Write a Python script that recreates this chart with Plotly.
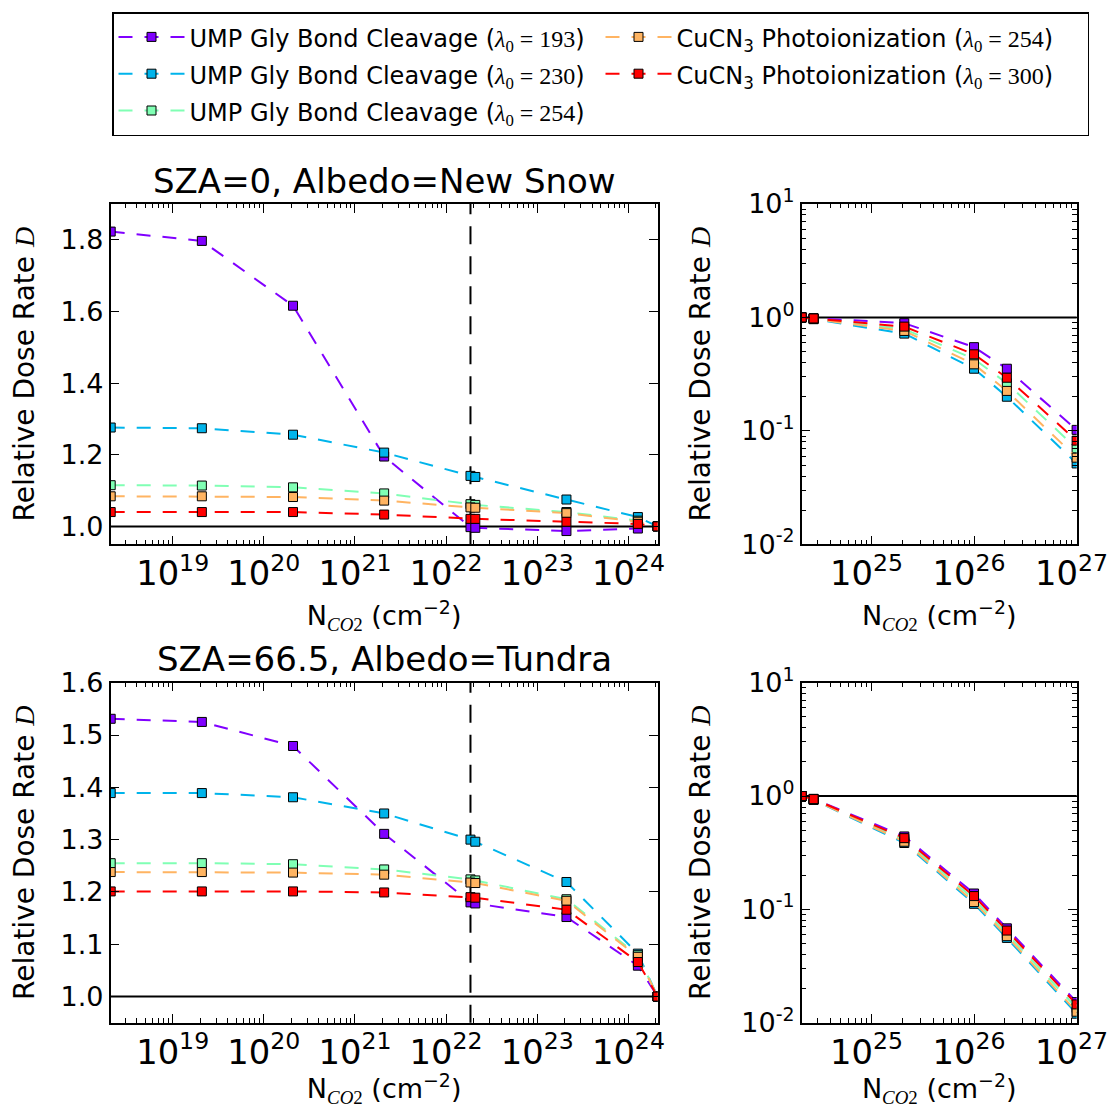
import math
import plotly.graph_objects as go

# ---------------- data ----------------
x_left = [2.09e18, 2.09e19, 2.09e20, 2.09e21, 1.85e22, 2.09e22, 2.09e23, 1.27e24, 2.09e24]
x_right = [2.09e24, 2.73e24, 2.09e25, 1.0e26, 2.09e26, 1.0e27]

# SZA=0, Albedo=New Snow (linear panel)
tl_ump193 = [1.823, 1.797, 1.616, 1.195, 0.998, 0.996, 0.987, 0.994, 1.0]
tl_ump230 = [1.276, 1.274, 1.256, 1.206, 1.141, 1.138, 1.075, 1.026, 1.0]
tl_ump254 = [1.115, 1.114, 1.109, 1.092, 1.062, 1.060, 1.040, 1.016, 1.0]
tl_cu254 = [1.084, 1.084, 1.082, 1.072, 1.053, 1.052, 1.037, 1.013, 1.0]
tl_cu300 = [1.040, 1.040, 1.040, 1.033, 1.021, 1.021, 1.013, 1.007, 1.0]

# SZA=0, Albedo=New Snow (log panel)
tr_ump193 = [1.0, 0.985, 0.89, 0.547, 0.353, 0.102]
tr_ump230 = [1.0, 0.965, 0.72, 0.353, 0.200, 0.0516]
tr_ump254 = [1.0, 0.975, 0.79, 0.43, 0.263, 0.070]
tr_cu254 = [1.0, 0.970, 0.76, 0.386, 0.225, 0.058]
tr_cu300 = [1.0, 0.980, 0.83, 0.473, 0.294, 0.082]

# SZA=66.5, Albedo=Tundra (linear panel)
bl_ump193 = [1.531, 1.525, 1.479, 1.311, 1.180, 1.178, 1.152, 1.059, 1.0]
bl_ump230 = [1.389, 1.389, 1.381, 1.350, 1.300, 1.296, 1.219, 1.082, 1.0]
bl_ump254 = [1.255, 1.255, 1.253, 1.243, 1.224, 1.222, 1.186, 1.079, 1.0]
bl_cu254 = [1.238, 1.238, 1.237, 1.233, 1.218, 1.217, 1.183, 1.076, 1.0]
bl_cu300 = [1.201, 1.201, 1.201, 1.199, 1.190, 1.189, 1.166, 1.066, 1.0]

# SZA=66.5, Albedo=Tundra (log panel)
br_ump193 = [1.0, 0.945, 0.44, 0.138, 0.068, 0.0152]
br_ump230 = [1.0, 0.925, 0.385, 0.112, 0.056, 0.0120]
br_ump254 = [1.0, 0.935, 0.41, 0.123, 0.061, 0.0135]
br_cu254 = [1.0, 0.930, 0.395, 0.116, 0.058, 0.0125]
br_cu300 = [1.0, 0.940, 0.425, 0.131, 0.065, 0.0145]

series_labels = [
    "UMP Gly Bond Cleavage (λ0=193)",
    "UMP Gly Bond Cleavage (λ0=230)",
    "UMP Gly Bond Cleavage (λ0=254)",
    "CuCN3 Photoionization (λ0=254)",
    "CuCN3 Photoionization (λ0=300)",
]
MATHSPAN = "<span style=\"font-family:'Liberation Serif'\">"
legend_texts = [
    "<span style='font-size:24px'>UMP Gly Bond Cleavage (" + MATHSPAN + "<i>λ</i><sub>0</sub> = 193</span>)</span>",
    "<span style='font-size:24px'>UMP Gly Bond Cleavage (" + MATHSPAN + "<i>λ</i><sub>0</sub> = 230</span>)</span>",
    "<span style='font-size:24px'>UMP Gly Bond Cleavage (" + MATHSPAN + "<i>λ</i><sub>0</sub> = 254</span>)</span>",
    "<span style='font-size:24px'>CuCN<sub>3</sub> Photoionization (" + MATHSPAN + "<i>λ</i><sub>0</sub> = 254</span>)</span>",
    "<span style='font-size:24px'>CuCN<sub>3</sub> Photoionization (" + MATHSPAN + "<i>λ</i><sub>0</sub> = 300</span>)</span>",
]
legend_ranks = [1, 3, 5, 2, 4]
colors = ["#8000ff", "#00b4eb", "#80ffb4", "#ffb462", "#ff0000"]

panels = [
    ("x", "y", x_left, [tl_ump193, tl_ump230, tl_ump254, tl_cu254, tl_cu300]),
    ("x2", "y2", x_right, [tr_ump193, tr_ump230, tr_ump254, tr_cu254, tr_cu300]),
    ("x3", "y3", x_left, [bl_ump193, bl_ump230, bl_ump254, bl_cu254, bl_cu300]),
    ("x4", "y4", x_right, [br_ump193, br_ump230, br_ump254, br_cu254, br_cu300]),
]
vline_x = 1.85e22
ref_level = 1.0

titles = ["SZA=0, Albedo=New Snow", "SZA=66.5, Albedo=Tundra"]

# ---------------- figure ----------------
W, H = 1109, 1108
fig = go.Figure()

for pi, (xa, ya, xs, ys_list) in enumerate(panels):
    for si, ys in enumerate(ys_list):
        fig.add_trace(go.Scatter(
            x=xs, y=ys, xaxis=xa, yaxis=ya,
            mode="lines+markers",
            name=legend_texts[si],
            legendgroup=series_labels[si],
            legendrank=legend_ranks[si],
            showlegend=(pi == 0),
            line=dict(color=colors[si], width=2, dash="14px,12px"),
            marker=dict(symbol="square", size=9, color=colors[si],
                        line=dict(color="black", width=1)),
        ))

FONT = "DejaVu Sans"

def px_x(p):
    return p / W

def px_y(p):
    return 1 - p / H

dom_xl = [px_x(110.7), px_x(657.6)]
dom_xr = [px_x(801.7), px_x(1076.7)]
dom_yt = [px_y(544.3), px_y(204.0)]
dom_yb = [px_y(1022.7), px_y(682.7)]

base_axis = dict(
    showline=True, linecolor="black", linewidth=1.5, mirror="ticks",
    ticks="inside", ticklen=9, tickwidth=1, tickcolor="black",
    showgrid=False, zeroline=False, automargin=False,
    ticklabeloverflow="allow",
    tickfont=dict(family=FONT, size=27, color="black"),
)
minor_log = dict(ticks="inside", ticklen=4.5, tickwidth=1, tickcolor="black",
                 dtick="D1", showgrid=False)

xtitle = ("N<sub>" + MATHSPAN + "<i>CO</i>2</span></sub>"
          " (cm<sup>−2</sup>)")
ytitle = "Relative Dose Rate " + MATHSPAN + "<i>D</i></span>"

def xaxis_log(dom, rng, anchor, shift=0):
    d = dict(base_axis)
    d.update(type="log", domain=dom, range=rng, anchor=anchor, dtick=1,
             exponentformat="power", minor=minor_log, ticklabelshift=shift,
             title=dict(text=xtitle, font=dict(family=FONT, size=27, color="black"),
                        standoff=14))
    return d

rng_left = [math.log10(x_left[0]), math.log10(x_left[-1])]
rng_right = [math.log10(x_right[0]), math.log10(x_right[-1]) + 0.0008]

log_tickvals = [0.01, 0.1, 1, 10]
log_ticktext = ["10<sup>-2</sup>", "10<sup>-1</sup>", "10<sup>0</sup>", "10<sup>1</sup>"]

def yaxis_lin(dom, rng, dt, anchor):
    d = dict(base_axis)
    d.update(domain=dom, range=rng, dtick=dt, tick0=0, tickformat=".1f", anchor=anchor,
             title=dict(text=ytitle, font=dict(family=FONT, size=28, color="black"),
                        standoff=18))
    return d

def yaxis_log(dom, anchor):
    d = dict(base_axis)
    d.update(type="log", domain=dom, range=[-2, 1], anchor=anchor,
             tickmode="array", tickvals=log_tickvals, ticktext=log_ticktext,
             minor=minor_log,
             title=dict(text=ytitle, font=dict(family=FONT, size=28, color="black"),
                        standoff=23))
    return d

fig.update_layout(
    width=W, height=H,
    margin=dict(l=0, r=0, t=0, b=0, autoexpand=False),
    paper_bgcolor="white", plot_bgcolor="white",
    font=dict(family=FONT, color="black"),
    xaxis=xaxis_log(dom_xl, rng_left, "y"),
    yaxis=yaxis_lin(dom_yt, [0.95, 1.9], 0.2, "x"),
    xaxis2=xaxis_log(dom_xr, rng_right, "y2", shift=-5),
    yaxis2=yaxis_log(dom_yt, "x2"),
    xaxis3=xaxis_log(dom_xl, rng_left, "y3"),
    yaxis3=yaxis_lin(dom_yb, [0.95, 1.6], 0.1, "x3"),
    xaxis4=xaxis_log(dom_xr, rng_right, "y4", shift=-5),
    yaxis4=yaxis_log(dom_yb, "x4"),
    legend=dict(
        orientation="h", x=px_x(112), y=px_y(12), xanchor="left", yanchor="top",
        bgcolor="white", bordercolor="black", borderwidth=1.5,
        font=dict(family=FONT, size=26, color="black"),
        entrywidth=406, entrywidthmode="pixels", itemwidth=66,
        traceorder="normal",
    ),
    showlegend=True,
)

# reference lines
for xa, ya in [("x", "y"), ("x2", "y2"), ("x3", "y3"), ("x4", "y4")]:
    fig.add_shape(type="line", xref=xa + " domain", yref=ya, x0=0, x1=1,
                  y0=ref_level, y1=ref_level, line=dict(color="black", width=2),
                  layer="below")
for xa, ya in [("x", "y"), ("x3", "y3")]:
    fig.add_shape(type="line", xref=xa, yref=ya + " domain", x0=vline_x, x1=vline_x,
                  y0=0, y1=1, line=dict(color="black", width=2, dash="18px,12px"),
                  layer="below")

# panel titles
cx = (dom_xl[0] + dom_xl[1]) / 2
fig.add_annotation(text=titles[0], xref="paper", yref="paper", x=cx, y=px_y(181),
                   xanchor="center", yanchor="middle", showarrow=False,
                   font=dict(family=FONT, size=34, color="black"))
fig.add_annotation(text=titles[1], xref="paper", yref="paper", x=cx, y=px_y(659),
                   xanchor="center", yanchor="middle", showarrow=False,
                   font=dict(family=FONT, size=34, color="black"))

fig.write_html("out.html")
